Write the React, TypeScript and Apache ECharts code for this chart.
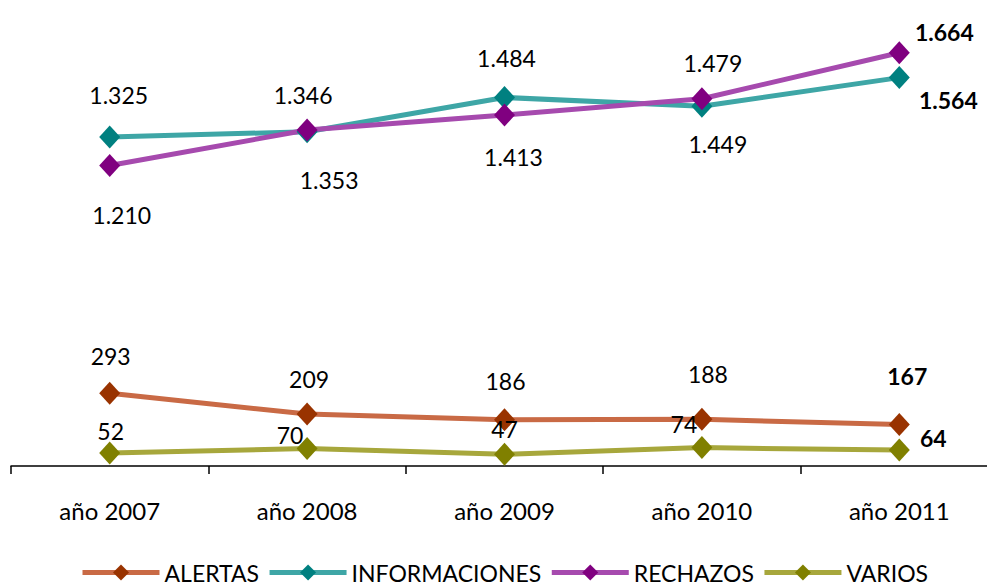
import React, { useEffect, useRef } from "react";
import * as echarts from "echarts";

const categories = ["año 2007", "año 2008", "año 2009", "año 2010", "año 2011"];
const seriesNames = ["ALERTAS", "INFORMACIONES", "RECHAZOS", "VARIOS"];
const alertas = [293, 209, 186, 188, 167];
const informaciones = [1325, 1346, 1484, 1449, 1564];
const rechazos = [1210, 1353, 1413, 1479, 1664];
const varios = [52, 70, 47, 74, 64];

// label offsets (layout only)
const offsets: number[][][] = [
  [[1, -37], [2, -35], [1, -39], [6, -45], [8, -49]],
  [[9, -42], [-4, -37], [2, -39], [16, 38], [49, 22]],
  [[12, 49], [22, 50], [9, 42], [11, -36], [45, -21]],
  [[1, -22], [-17, -14], [0, -25], [-18, -24], [34, -12]],
];
const lineColors = ["#c96a45", "#3ea6a6", "#a64aae", "#a7a73c"];
const markerColors = ["#993300", "#008080", "#800080", "#808000"];

const fmt = (v: number) => String(v).replace(/\B(?=(\d{3})+(?!\d))/g, ".");

export default function App() {
  const ref = useRef<HTMLDivElement>(null);
  useEffect(() => {
    if (!ref.current) return;
    const chart = echarts.init(ref.current, null, { renderer: "svg" });
    const datasets = [alertas, informaciones, rechazos, varios];
    chart.setOption({
      animation: false,
      backgroundColor: "#ffffff",
      grid: { left: 11, top: 19, width: 987, height: 447, containLabel: false },
      legend: {
        data: seriesNames,
        left: 75,
        top: 556,
        itemWidth: 77,
        itemHeight: 20,
        itemGap: 8,
        lineStyle: { width: 5 },
        textStyle: {
          fontFamily: "Lato, sans-serif",
          fontSize: 23,
          color: "#000",
        },
      },
      xAxis: {
        type: "category",
        data: categories,
        boundaryGap: true,
        axisLine: { lineStyle: { color: "#000", width: 1.5 } },
        axisTick: { show: true, length: 8, interval: 0, lineStyle: { color: "#000", width: 1.5 } },
        axisLabel: {
          margin: 32,
          fontFamily: "Lato, sans-serif",
          fontSize: 24,
          color: "#000",
        },
      },
      yAxis: { type: "value", min: 0, max: 1800, show: false, splitLine: { show: false } },
      series: datasets.map((d, si) => ({
        name: seriesNames[si],
        type: "line",
        symbol: "diamond",
        symbolSize: [21, 23],
        itemStyle: { color: markerColors[si] },
        lineStyle: { color: lineColors[si], width: 5 },
        data: d.map((v, i) => ({
          value: v,
          label: {
            show: true,
            position: "inside",
            offset: offsets[si][i],
            formatter: () => fmt(v),
            fontFamily: "Lato, sans-serif",
            fontSize: 23,
            fontWeight: i === 4 ? "bold" : "normal",
            color: "#000",
          },
        })),
      })),
    });
    return () => chart.dispose();
  }, []);
  return (
    <div
      style={{
        position: "absolute",
        left: 0,
        top: 0,
        width: 987,
        height: 586,
        overflow: "hidden",
        background: "#fff",
      }}
    >
      <div ref={ref} style={{ width: 1010, height: 586 }} />
    </div>
  );
}
